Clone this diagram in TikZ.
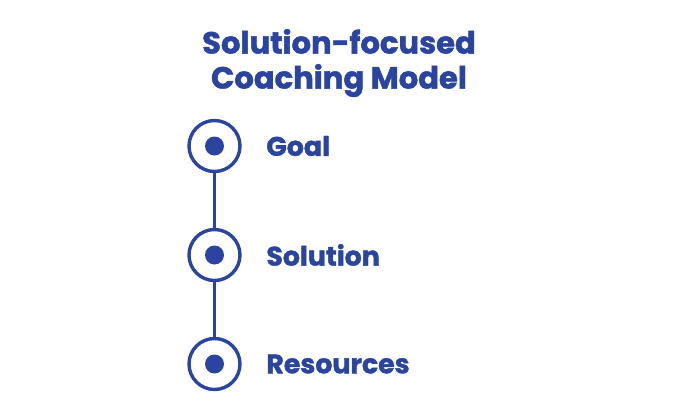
\documentclass[tikz,border=0pt]{standalone}
\usepackage{fontspec}
\setmainfont{Poppins}[BoldFeatures={FakeBold=1.5}]
\usetikzlibrary{positioning}
\definecolor{coachblue}{RGB}{42,68,160}

\begin{document}
\begin{tikzpicture}[x=1pt,y=-1pt,
  ring/.style={circle,draw=coachblue,line width=3.4pt,minimum size=51pt,inner sep=0pt},
  dot/.style={circle,fill=coachblue,minimum size=19pt,inner sep=0pt},
  step label/.style={anchor=west,inner sep=0pt,text=coachblue,font=\fontsize{26.8}{30}\selectfont\bfseries},
  node distance = 54.6pt]
\useasboundingbox (0,0) rectangle (680,416);
\node (title) [align=center,text=coachblue,font=\fontsize{30.6}{35}\selectfont\bfseries] at (339,63) {Solution-focused\\Coaching Model};
\node (goal) [ring] at (214.5,146) {};
\node (solution) [ring,below=of goal] {};
\node (resources) [ring,below=of solution] {};
\foreach \n in {goal,solution,resources}
  \node (\n dot) [dot] at (\n.center) {};
\draw [coachblue, line width=2.2pt] (goal) -- (solution);
\draw [coachblue, line width=2.2pt] (solution) -- (resources);
\node (goal text) [step label,right=24.5pt of goal] {Goal};
\node (solution text) [step label,right=24.5pt of solution] {Solution};
\node (resources text) [step label,right=24.5pt of resources] {Resources};
\end{tikzpicture}
\end{document}
